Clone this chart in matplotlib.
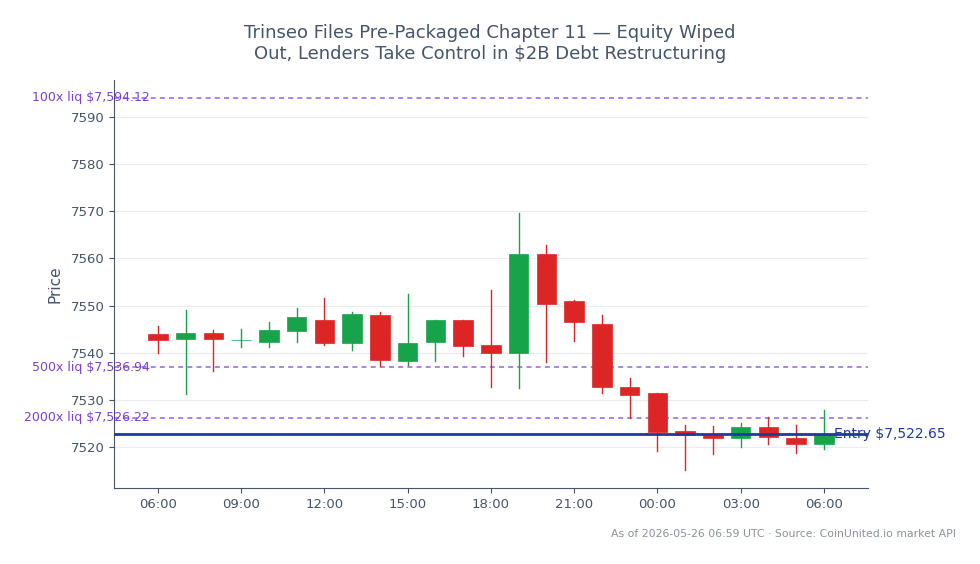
import matplotlib
matplotlib.use("Agg")
import matplotlib.pyplot as plt
from matplotlib.patches import Rectangle

# hourly candles, 06:00 -> 06:00 next day
hours = ["06:00", "07:00", "08:00", "09:00", "10:00", "11:00", "12:00", "13:00",
         "14:00", "15:00", "16:00", "17:00", "18:00", "19:00", "20:00", "21:00",
         "22:00", "23:00", "00:00", "01:00", "02:00", "03:00", "04:00", "05:00", "06:00"]
opens = [7544.0, 7543.0, 7544.2, 7542.6, 7542.3, 7544.5, 7546.9, 7542.0,
         7548.0, 7538.3, 7542.3, 7546.9, 7541.6, 7540.0, 7560.9, 7551.0,
         7546.1, 7532.7, 7531.4, 7523.4, 7522.5, 7521.8, 7524.2, 7521.9, 7520.7]
highs = [7545.7, 7549.1, 7544.8, 7545.0, 7546.5, 7549.5, 7551.6, 7548.6,
         7548.6, 7552.5, 7547.0, 7547.0, 7553.2, 7569.7, 7562.8, 7551.1,
         7548.0, 7534.6, 7531.5, 7524.7, 7524.4, 7525.0, 7526.3, 7524.7, 7527.9]
lows = [7539.9, 7531.2, 7536.2, 7541.1, 7541.1, 7542.3, 7541.6, 7540.6,
        7537.2, 7537.4, 7538.2, 7539.4, 7532.8, 7532.6, 7538.1, 7542.5,
        7531.5, 7526.1, 7519.2, 7515.1, 7518.5, 7519.9, 7520.6, 7518.8, 7519.6]
closes = [7542.6, 7544.2, 7543.0, 7542.7, 7544.8, 7547.6, 7542.1, 7548.2,
          7538.5, 7542.1, 7546.9, 7541.5, 7540.0, 7560.9, 7550.4, 7546.6,
          7532.8, 7531.1, 7523.2, 7522.5, 7521.8, 7524.2, 7522.2, 7520.7, 7522.6]

entry = 7522.65
liq_levels = [7594.12, 7536.94, 7526.22]
liq_names = ["100x liq $7,594.12", "500x liq $7,536.94", "2000x liq $7,526.22"]

tick_idx = [0, 3, 6, 9, 12, 15, 18, 21, 24]

green = "#16a34a"
red = "#dc2626"
purple = "#9b6ee8"
purple_txt = "#7e3fd6"
blue = "#1e3a9e"
slate = "#44546a"

fig = plt.figure(figsize=(9.8, 5.64), dpi=100)
ax = fig.add_axes([0.1163, 0.1348, 0.7694, 0.7234])

w = 0.7
for i in range(len(hours)):
    o, h, l, c = opens[i], highs[i], lows[i], closes[i]
    col = green if c >= o else red
    ax.plot([i, i], [l, h], color=col, lw=1, zorder=3)
    body = max(abs(c - o), 0.08)
    ax.add_patch(Rectangle((i - w / 2, min(o, c)), w, body, facecolor=col,
                           edgecolor=col, lw=0.5, zorder=4))

for lvl, name in zip(liq_levels, liq_names):
    ax.axhline(lvl, color=purple, ls=(0, (3, 2.5)), lw=1.2, zorder=2)
    ax.text(0.048, lvl, name, transform=ax.get_yaxis_transform(), ha="right",
            va="center", color=purple_txt, fontsize=9, zorder=5, clip_on=False)

ax.axhline(entry, color=blue, lw=2, zorder=5)
ax.text(24.35, entry, "Entry $7,522.65", ha="left", va="center", color=blue,
        fontsize=10, zorder=6)

ax.set_xlim(-1.585, 25.59)
ax.set_ylim(7511.3, 7597.85)
ax.set_xticks(tick_idx)
ax.set_xticklabels([hours[i] for i in tick_idx])
ax.set_yticks([7520, 7530, 7540, 7550, 7560, 7570, 7580, 7590])

ax.grid(axis="y", color="#e8ebf0", lw=0.8, zorder=0)
ax.set_axisbelow(True)
for s in ["top", "right"]:
    ax.spines[s].set_visible(False)
for s in ["left", "bottom"]:
    ax.spines[s].set_color(slate)
ax.tick_params(colors=slate, labelsize=9.5)
ax.set_ylabel("Price", color=slate, fontsize=11, labelpad=6)

fig.suptitle("Trinseo Files Pre-Packaged Chapter 11 — Equity Wiped\nOut, Lenders Take Control in $2B Debt Restructuring",
             color=slate, fontsize=13, y=0.958, linespacing=1.25)
fig.text(0.975, 0.053, "As of 2026-05-26 06:59 UTC · Source: CoinUnited.io market API",
         ha="right", va="center", color="#8a929c", fontsize=7.8)

fig.savefig("out.png", dpi=100)
